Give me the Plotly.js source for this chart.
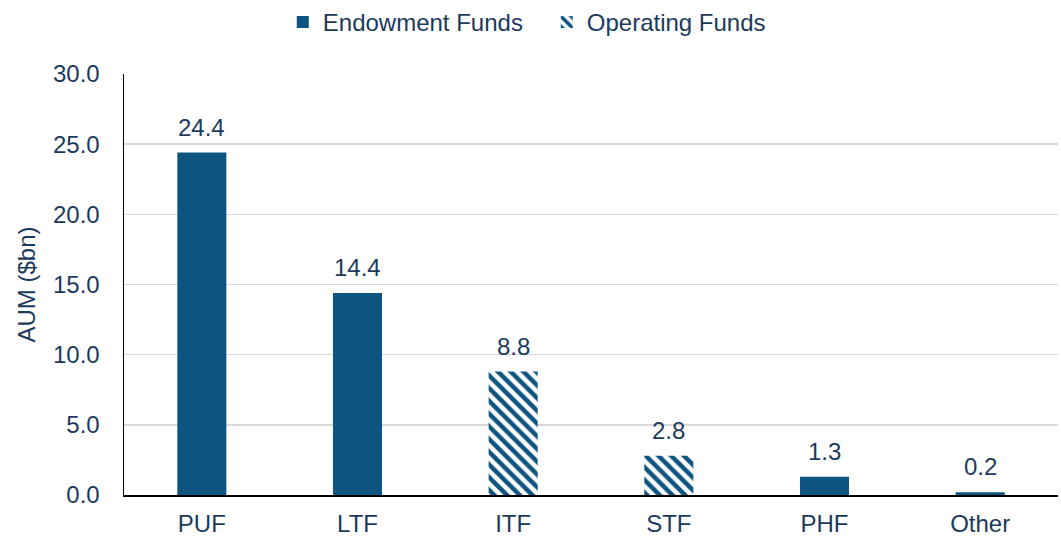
<!DOCTYPE html>
<html><head><meta charset="utf-8">
<script src="https://cdn.plot.ly/plotly-3.0.1.min.js"></script>
<style>html,body{margin:0;padding:0;background:#fff}#chart{width:1061px;height:540px}</style>
</head><body><div id="chart"></div>
<script>
const categories = ["PUF","LTF","ITF","STF","PHF","Other"];
const endowCats = ["PUF","LTF","PHF","Other"];
const endowVals = [24.4, 14.4, 1.3, 0.2];
const operCats = ["ITF","STF"];
const operVals = [8.8, 2.8];
const yTicks = [0,5,10,15,20,25,30];

const barColor = '#0e5480';
const textColor = '#1b3a5c';
const fnt = 'Liberation Sans, Arial, sans-serif';
const fs = 24;

const traces = [
  {type:'bar', name:'Endowment Funds', x:endowCats, y:endowVals,
   marker:{color:barColor}},
  {type:'bar', name:'Operating Funds', x:operCats, y:operVals,
   marker:{color:barColor, pattern:{shape:'\\', fgcolor:barColor, bgcolor:'#ffffff', size:9, solidity:0.5, fillmode:'replace'}}}
];

const annotations = [];
endowCats.forEach((c,i)=>annotations.push({x:c, y:endowVals[i], text:endowVals[i].toFixed(1)}));
operCats.forEach((c,i)=>annotations.push({x:c, y:operVals[i], text:operVals[i].toFixed(1)}));
annotations.forEach(a=>{a.xref='x'; a.yref='y'; a.showarrow=false; a.yanchor='bottom'; a.yshift=10;
  a.font={size:fs,color:textColor,family:fnt};});

const layout = {
  width:1061, height:540,
  margin:{l:124, r:3, t:74, b:45},
  barmode:'overlay', bargap:0.685,
  font:{family:fnt, color:textColor, size:fs},
  paper_bgcolor:'#fff', plot_bgcolor:'#fff',
  showlegend:true,
  annotations:annotations,
  legend:{orientation:'h', x:0.17, xanchor:'left', y:1.0, yref:'container', yanchor:'top',
          font:{size:fs,color:textColor}, itemwidth:30, tracegroupgap:0,
          entrywidth:219, entrywidthmode:'pixels'},
  xaxis:{type:'category', categoryorder:'array', categoryarray:categories,
         showline:true, linecolor:'#000', linewidth:1.5, ticks:'', ticklabelstandoff:7,
         tickfont:{size:fs,color:textColor}, fixedrange:true},
  yaxis:{range:[0,30], tickvals:yTicks, ticktext:yTicks.map(v=>v.toFixed(1)),
         showgrid:true, gridcolor:'#d9d9d9', gridwidth:1.5, zeroline:false,
         showline:true, linecolor:'#000', linewidth:1.5, ticks:'', ticklabelstandoff:18,
         tickfont:{size:fs,color:textColor},
         title:{text:'AUM ($bn)', font:{size:fs,color:textColor}, standoff:10}}
};
Plotly.newPlot('chart', traces, layout, {displayModeBar:false, staticPlot:true});
</script></body></html>
